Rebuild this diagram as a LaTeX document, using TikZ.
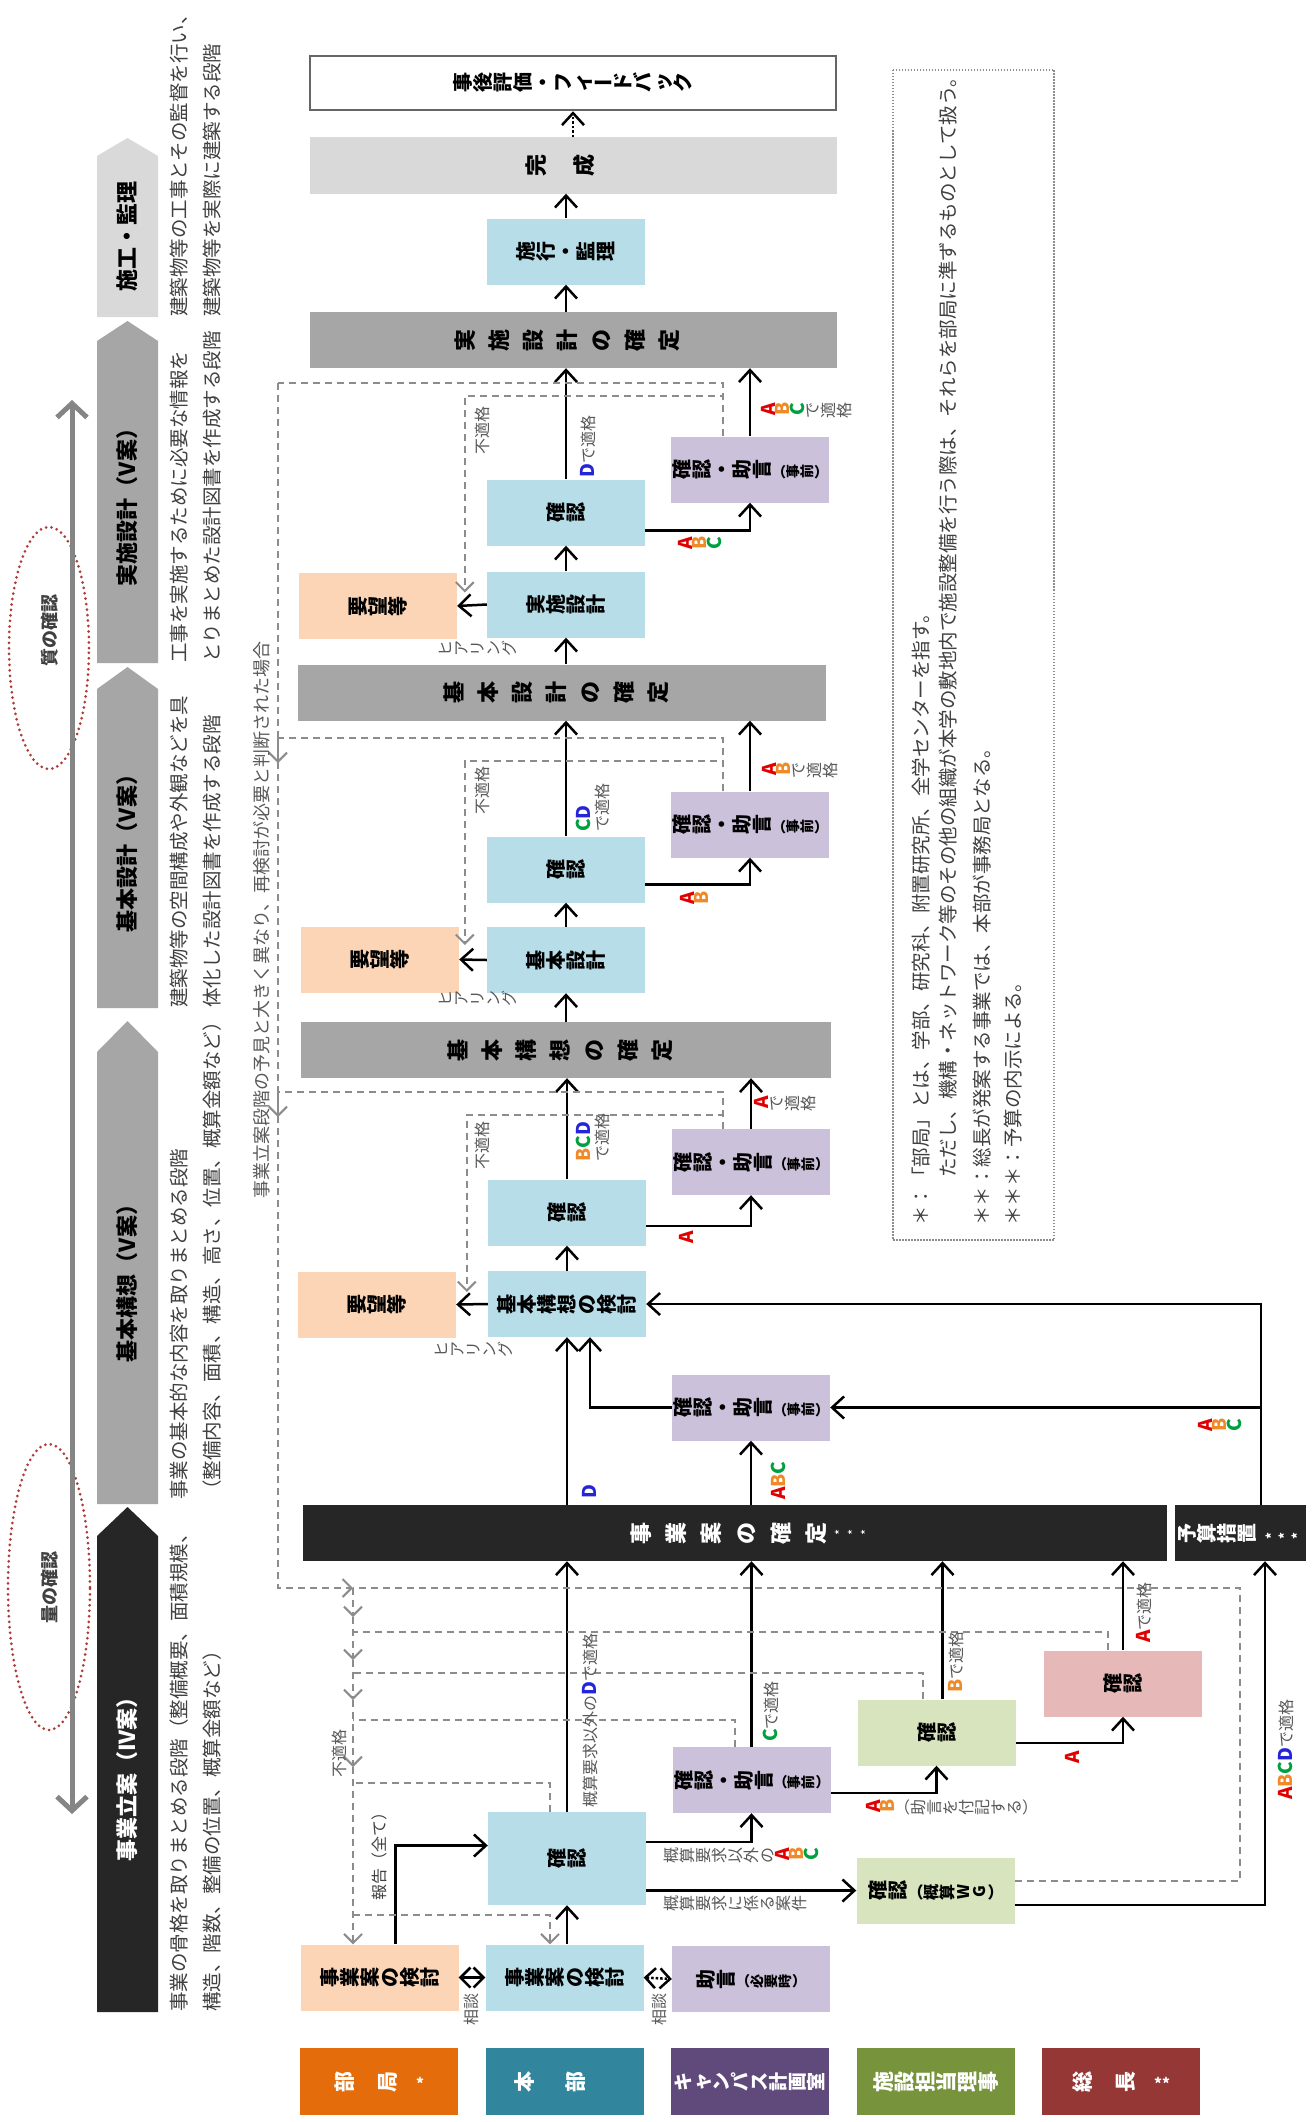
\documentclass[tikz,border=0pt]{standalone}
\usepackage{fontspec}
\setmainfont{Noto Sans CJK JP}
\usepackage{graphicx}
\usetikzlibrary{arrows.meta}
\definecolor{peach}{HTML}{FBD5B5}
\definecolor{lblue}{HTML}{B7DEE8}
\definecolor{lav}{HTML}{CCC1DA}
\definecolor{lgreen}{HTML}{D7E4BD}
\definecolor{pinkc}{HTML}{E6B9B8}
\definecolor{barg}{HTML}{A6A6A6}
\definecolor{lgray}{HTML}{D9D9D9}
\definecolor{blk}{HTML}{262626}
\definecolor{cbu}{HTML}{E46C0A}
\definecolor{chon}{HTML}{31859C}
\definecolor{ccam}{HTML}{604A7B}
\definecolor{cri}{HTML}{77933C}
\definecolor{csou}{HTML}{953735}
\definecolor{cA}{HTML}{E00000}
\definecolor{cB}{HTML}{F08A28}
\definecolor{cC}{HTML}{00A040}
\definecolor{cD}{HTML}{2424D8}
\definecolor{fbgray}{HTML}{8C8C8C}
\definecolor{labgray}{HTML}{595959}
\definecolor{txtgray}{HTML}{404040}
\definecolor{redd}{HTML}{B03A3A}
\definecolor{edge}{HTML}{666666}
\newcommand\kA{{\fontsize{19}{20}\selectfont\bfseries\color{cA}A}\let\tatestrut\relax}
\newcommand\kB{{\fontsize{19}{20}\selectfont\bfseries\color{cB}B}\let\tatestrut\relax}
\newcommand\kC{{\fontsize{19}{20}\selectfont\bfseries\color{cC}C}\let\tatestrut\relax}
\newcommand\kD{{\fontsize{19}{20}\selectfont\bfseries\color{cD}D}\let\tatestrut\relax}
\newlength\tatesep
\def\tateend{tate end}
\newcommand\tatestrut{\rule[-0.12em]{0pt}{1em}}
\newcommand\tate[2][0pt]{\setlength\tatesep{#1}\tateloop#2\tateend\hspace{-\tatesep}}
\def\tateloop#1{\ifx\tateend#1\else\rotatebox[origin=c]{90}{#1\tatestrut}\hspace{\tatesep}\expandafter\tateloop\fi}
\newcommand\norot[1]{\rotatebox[origin=c]{-90}{#1\tatestrut}}
\newcommand\jogentext{\tate{確認・助言}{\fontsize{14}{16}\selectfont\tate{{\norot{（}}事前{\norot{）}}}}}
\tikzset{
  box/.style={inner sep=0pt, minimum width=158pt, minimum height=66pt, font=\fontsize{20}{24}\selectfont\bfseries},
  bar/.style={inner sep=0pt, minimum width=527pt, minimum height=56pt, fill=barg, font=\fontsize{22}{26}\selectfont\bfseries},
  lane/.style={inner sep=0pt, minimum width=158pt, minimum height=67pt, text=white, font=\fontsize{21}{24}\selectfont\bfseries},
  stage/.style={rotate=90, inner sep=0pt, font=\fontsize{22}{26}\selectfont\bfseries},
  desc/.style={rotate=90, anchor=north west, align=left, inner sep=0pt, text=txtgray, font=\fontsize{19.5}{33}\selectfont},
  notetext/.style={rotate=90, anchor=west, inner sep=0pt, text=txtgray, font=\fontsize{19.5}{24}\selectfont},
  lab/.style={inner sep=0pt, text=labgray, font=\fontsize{16}{18}\selectfont},
  rlab/.style={lab, rotate=90},
  flowarr/.style={line width=2.5pt, -{Straight Barb[length=12pt,width=22pt]}},
  fb/.style={line width=2pt, draw=fbgray, dash pattern=on 7pt off 5pt},
  fbarrow/.style={fb, -{Straight Barb[length=9pt,width=18pt]}},
  dblarr/.style={line width=2.5pt, {Straight Barb[length=10pt,width=20pt]}-{Straight Barb[length=10pt,width=20pt]}},
  redot/.style={draw=redd, line width=3pt, line cap=round, dash pattern=on 0pt off 5.5pt},
}
\begin{document}
\begin{tikzpicture}[x=1pt, y=-1pt]
\useasboundingbox (0,0) rectangle (1314,2122);
\fill[white] (0,0) rectangle (1314,2122);

% stages
\fill[lgray] (97,317) -- (97,156) -- (127.5,138) -- (158,156) -- (158,317) -- cycle;
\fill[barg] (97,663) -- (97,341) -- (127.5,321) -- (158,341) -- (158,663) -- cycle;
\fill[barg] (97,1008) -- (97,689) -- (127.5,667) -- (158,689) -- (158,1008) -- cycle;
\fill[barg] (97,1504) -- (97,1052) -- (127.5,1021) -- (158,1052) -- (158,1504) -- cycle;
\fill[blk] (97,2012) -- (97,1536) -- (127.5,1507) -- (158,1536) -- (158,2012) -- cycle;
\node[stage] (sseko) at (127.5,236) {施工・監理};
\node[stage] (sjissi) at (127.5,502) {実施設計（V案）};
\node[stage] (skihon) at (127.5,848) {基本設計（V案）};
\node[stage] (skoso) at (127.5,1278) {基本構想（V案）};
\node[stage, text=white] (sritsu) at (127.5,1774) {事業立案（IV案）};
\node[desc] (dseko) at (170,317) {建築物等の工事とその監督を行い、\\建築物等を実際に建築する段階};
\node[desc] (djissi) at (170,663) {工事を実施するために必要な情報を\\とりまとめた設計図書を作成する段階};
\node[desc] (dkihon) at (170,1008) {建築物等の空間構成や外観などを具\\体化した設計図書を作成する段階};
\node[desc] (dkoso) at (170,1500) {事業の基本的な内容を取りまとめる段階\\（整備内容、面積、構造、高さ、位置、概算金額など）};
\node[desc] (dritsu) at (170,2012) {事業の骨格を取りまとめる段階（整備概要、面積規模、\\構造、階数、整備の位置、概算金額など）};

\draw[redot] (49,648) ellipse [x radius=40pt, y radius=121pt];
\draw[redot] (49,1587) ellipse [x radius=41pt, y radius=143pt];
\draw[line width=5pt, draw=edge!80, {Straight Barb[length=14pt,width=30pt]}-{Straight Barb[length=14pt,width=30pt]}] (72,400) -- (72,1814);
\node[rotate=90, font=\fontsize{18}{20}\selectfont\bfseries, text=txtgray] (shitsu) at (50,630) {質の確認};
\node[rotate=90, font=\fontsize{18}{20}\selectfont\bfseries, text=txtgray] (ryo) at (50,1587) {量の確認};

% boxes
\node[box, fill=white, draw=edge, line width=2.5pt, minimum width=526pt, minimum height=54pt] (hyoka) at (573,83) {\tate{事後評価・フィ{\norot{ー}}ドバック}};
\node[bar, fill=lgray] (kansei) at (573,165.5) {\tate[26pt]{完成}};
\node[box, fill=lblue] (seko) at (566,251.5) {\tate{施行・監理}};
\node[bar] (jkakutei) at (573,340) {\tate[12pt]{実施設計の確定}};
\node[box, fill=lav] (jjogen) at (750,469.5) {\jogentext};
\node[box, fill=lblue] (jkakunin) at (566,512.5) {\tate{確認}};
\node[box, fill=lblue] (jsekkei) at (566,604.5) {\tate{実施設計}};
\node[box, fill=peach] (jyobo) at (378,606) {\tate{要望等}};
\node[bar, minimum width=528pt] (kkakutei) at (562,692.5) {\tate[12pt]{基本設計の確定}};
\node[box, fill=lav] (kjogen) at (750,824.5) {\jogentext};
\node[box, fill=lblue] (kkakunin) at (566,869.5) {\tate{確認}};
\node[box, fill=lblue] (ksekkei) at (566,960) {\tate{基本設計}};
\node[box, fill=peach] (kyobo) at (380,959.5) {\tate{要望等}};
\node[bar, minimum width=530pt] (kokakutei) at (566,1050) {\tate[12pt]{基本構想の確定}};
\node[box, fill=lav] (kojogen) at (751,1162) {\jogentext};
\node[box, fill=lblue] (kokakunin) at (567,1212.5) {\tate{確認}};
\node[box, fill=lblue] (kokento) at (567,1304) {\tate{基本構想の検討}};
\node[box, fill=peach] (koyobo) at (377,1304.5) {\tate{要望等}};
\node[box, fill=lav] (jizen) at (751,1407.5) {\jogentext};
\node[bar, fill=blk, text=white, minimum width=864pt] (jigyo) at (735,1533) {\tate[13pt]{事業案の確定}};
\node[text=white, font=\fontsize{13}{13}\selectfont] (jigyoast) at (854,1533) {\tate{***}};
\node[bar, fill=blk, text=white, minimum width=131pt, font=\fontsize{20}{24}\selectfont\bfseries] (yosan) at (1240.5,1533) {\tate{予算措置}\hspace{8pt}{\fontsize{13}{13}\selectfont\tate{***}}};
\node[box, fill=pinkc] (pink) at (1123,1683.5) {\tate{確認}};
\node[box, fill=lgreen] (green1) at (936.5,1732.5) {\tate{確認}};
\node[box, fill=lav] (cjogen) at (751.5,1780) {\jogentext};
\node[box, fill=lblue, minimum height=93pt] (hkakunin) at (567,1858.5) {\tate{確認}};
\node[box, fill=lgreen] (wg) at (935.5,1890.5) {\tate{確認}{\fontsize{16}{18}\selectfont\tate{{\norot{（}}概算WG{\norot{）}}}}};
\node[box, fill=peach] (bkento) at (379.5,1977.5) {\tate{事業案の検討}};
\node[box, fill=lblue] (hkento) at (564.5,1977.5) {\tate{事業案の検討}};
\node[box, fill=lav] (jogen) at (751,1979) {\tate{助言}{\fontsize{14}{16}\selectfont\tate{{\norot{（}}必要時{\norot{）}}}}};
\node[lane, fill=cbu] (lbukyoku) at (379,2081.5) {\tate[22pt]{部局}\hspace{18pt}{\fontsize{15}{15}\selectfont *}};
\node[lane, fill=chon] (lhonbu) at (565,2081.5) {\tate[30pt]{本部}};
\node[lane, fill=ccam, font=\fontsize{19}{22}\selectfont\bfseries] (lcampus) at (750,2081.5) {\tate{キャンパス計画室}};
\node[lane, fill=cri] (lriji) at (936,2081.5) {\tate{施設担当理事}};
\node[lane, fill=csou] (lsocho) at (1121,2081.5) {\tate[22pt]{総長}\hspace{18pt}{\fontsize{15}{15}\selectfont **}};

% solid arrows
\draw[flowarr, dotted] (kansei.north) -- (hyoka.south);
\draw[flowarr] (seko.north) -- (seko.north |- kansei.south);
\draw[flowarr] (seko.south |- jkakutei.north) -- (seko.south);
\draw[flowarr] (jkakunin.north) -- (jkakunin.north |- jkakutei.south);
\draw[flowarr] (jjogen.north) -- (jjogen.north |- jkakutei.south);
\draw[flowarr] ([yshift=-18pt]jkakunin.east) -| (jjogen.south);
\draw[flowarr] (jsekkei.north) -- (jkakunin.south);
\draw[flowarr] (jsekkei.west) -- (jyobo.east);
\draw[flowarr] (jsekkei.south |- kkakutei.north) -- (jsekkei.south);
\draw[flowarr] (kkakunin.north) -- (kkakunin.north |- kkakutei.south);
\draw[flowarr] (kjogen.north) -- (kjogen.north |- kkakutei.south);
\draw[flowarr] ([yshift=-15pt]kkakunin.east) -| (kjogen.south);
\draw[flowarr] (ksekkei.north) -- (kkakunin.south);
\draw[flowarr] (ksekkei.west) -- (kyobo.east);
\draw[flowarr] (ksekkei.south |- kokakutei.north) -- (ksekkei.south);
\draw[flowarr] (kokakunin.north) -- (kokakunin.north |- kokakutei.south);
\draw[flowarr] (kojogen.north) -- (kojogen.north |- kokakutei.south);
\draw[flowarr] ([yshift=-13.5pt]kokakunin.east) -| (kojogen.south);
\draw[flowarr] (kokento.north) -- (kokakunin.south);
\draw[flowarr] (kokento.west) -- (koyobo.east);
\draw[flowarr] (kokento.south |- jigyo.north) -- (kokento.south);
\draw[flowarr] (jizen.south |- jigyo.north) -- (jizen.south);
\draw[flowarr] (jizen.west) -| ([xshift=23pt]kokento.south);
\draw[flowarr] ([xshift=20.5pt]yosan.north) |- (kokento.east);
\coordinate (ybr) at ([xshift=20.5pt]yosan.north |- jizen.east);
\draw[flowarr] (ybr) -- (jizen.east);
\draw[flowarr] (hkakunin.north) -- (hkakunin.north |- jigyo.south);
\draw[flowarr] (cjogen.north) -- (cjogen.north |- jigyo.south);
\draw[flowarr] ([xshift=6pt]green1.north) -- ([xshift=6pt]green1.north |- jigyo.south);
\draw[flowarr] (pink.north) -- (pink.north |- jigyo.south);
\draw[flowarr] ([yshift=-14.5pt]wg.east) -| ([xshift=24.5pt]yosan.south);
\draw[flowarr] ([yshift=16.5pt]hkakunin.east) -| (cjogen.south);
\draw[flowarr] (hkakunin.east |- wg.west) -- (wg.west);
\draw[flowarr] ([yshift=-13pt]cjogen.east) -| (green1.south);
\draw[flowarr] ([yshift=-10.5pt]green1.east) -| (pink.south);
\draw[flowarr] ([xshift=16pt]bkento.north) |- ([yshift=13pt]hkakunin.west);
\draw[flowarr] (hkakunin.south |- hkento.north) -- (hkakunin.south);
\draw[dblarr] (bkento.east) -- (hkento.west);
\draw[dblarr, dotted] (hkento.east) -- (jogen.west);

% dashed returns
\coordinate (tjtop) at (278,383);
\coordinate (tkmid) at (278,738);
\coordinate (tklow) at (278,1092);
\coordinate (tend) at (353,1588);
\draw[fb] ([xshift=-27pt]jjogen.north) |- (tjtop);
\draw[fbarrow] ([xshift=-27pt]jjogen.north) -- ++(0,-40) -| ([xshift=-22pt,yshift=12pt]jsekkei.west);
\draw[fb] ([xshift=-27pt]kjogen.north) |- (tkmid);
\draw[fbarrow] ([xshift=-27pt]kjogen.north) -- ++(0,-30) -| ([xshift=-22pt,yshift=15pt]ksekkei.west);
\draw[fb] ([xshift=-28pt]kojogen.north) |- (tklow);
\draw[fbarrow] ([xshift=-28pt]kojogen.north) -- ++(0,-14) -| ([xshift=-21pt,yshift=12pt]kokento.west);
\draw[fbarrow] (tjtop) -- ([yshift=-25pt]tkmid);
\draw[fbarrow] (tkmid) -- ([yshift=-25pt]tklow);
\draw[fbarrow] (tklow) |- (tend);
\draw[fb] ([yshift=10pt]wg.east) -| (1240,1588) -- (tend);
\draw[fb] ([xshift=-15pt]pink.north) |- (353,1632);
\draw[fb] ([xshift=-13.5pt]green1.north) |- (353,1673);
\draw[fb] ([xshift=-16.5pt]cjogen.north) |- (353,1720);
\draw[fb] ([xshift=-17pt]hkakunin.north) |- (353,1783);
\draw[fbarrow] (tend) -- (353,1617);
\draw[fbarrow] (353,1617) -- (353,1660);
\draw[fbarrow] (353,1660) -- (353,1700);
\draw[fbarrow] (353,1700) -- (353,1767);
\draw[fbarrow] (353,1767) -- (bkento.north -| tend);
\draw[fbarrow] (353,1915) -| ([xshift=-14.5pt]hkento.north);

% labels
\node[rlab, anchor=west, font=\fontsize{18}{20}\selectfont] (saiken) at (262,1199) {事業立案段階の予見と大きく異なり、再検討が必要と判断された場合};
\node[rlab] (fu1) at (482,430) {不適格};
\node[rlab] (fu2) at (482,790) {不適格};
\node[rlab] (fu3) at (482,1145) {不適格};
\node[rlab] (fu4) at (339,1753) {不適格};
\node[rlab, anchor=west] (ljD) at (588,478) {\kD で適格};
\node[lab] (ljABC) at (807,410) {\tate{\kA\kB\kC で適格}};
\node[lab] (ljABC2) at (700,543) {\tate{\kA\kB\kC}};
\node[lab] (lhear1) at (477,648) {\tate{ヒアリング}};
\node[rlab, anchor=north west, align=left] (lkCD) at (576,832) {\kC\kD\\で適格};
\node[lab] (lkAB) at (800,770) {\tate{\kA\kB で適格}};
\node[lab] (lkAB2) at (694,898) {\tate{\kA\kB}};
\node[lab] (lhear2) at (477,998) {\tate{ヒアリング}};
\node[rlab, anchor=north west, align=left] (lkoBCD) at (576,1162) {\kB\kC\kD\\で適格};
\node[lab] (lkoA) at (785,1103) {\tate{\kA で適格}};
\node[lab] (lkoA2) at (686,1238) {\tate{\kA}};
\node[lab] (lhear3) at (473,1349) {\tate{ヒアリング}};
\node[rlab] (ljD2) at (589,1492) {\kD};
\node[rlab, anchor=west] (ljABC3) at (778,1500) {\kA\kB\kC};
\node[lab] (lyABC) at (1220,1425) {\tate{\kA\kB\kC}};
\node[rlab, anchor=west] (lhD) at (590,1808) {概算要求以外の\kD で適格};
\node[rlab, anchor=west] (lcC) at (771,1742) {\kC で適格};
\node[rlab, anchor=west] (lgB) at (956,1693) {\kB で適格};
\node[rlab, anchor=west] (lpA) at (1144,1643) {\kA で適格};
\node[rlab, anchor=west] (lwABCD) at (1286,1800) {\kA\kB\kC\kD で適格};
\node[lab] (lhABC) at (741,1855) {\tate{概算要求以外の\kA\kB\kC}};
\node[lab] (lhWG) at (735,1903) {\tate{概算要求に係る案件}};
\node[lab] (lcAB) at (952,1807) {\tate{\kA\kB{\norot{（}}助言を付記する{\norot{）}}}};
\node[lab] (lgA) at (1072,1758) {\tate{\kA}};
\node[rlab, text=txtgray] (lhoukoku) at (379,1852) {報告（全て）};
\node[rlab] (lsodan1) at (471,2009) {相談};
\node[rlab] (lsodan2) at (659,2009) {相談};

% notes
\draw[fbgray, line width=1.5pt, dash pattern=on 1.5pt off 1.5pt] (893,70) rectangle (1054,1240);
\node[notetext] (n1) at (921,1226) {＊：「部局」とは、学部、研究科、附置研究所、全学センターを指す。};
\node[notetext] (n2) at (948,1178) {ただし、機構・ネットワーク等のその他の組織が本学の敷地内で施設整備を行う際は、それらを部局に準ずるものとして扱う。};
\node[notetext] (n3) at (982,1226) {＊＊：総長が発案する事業では、本部が事務局となる。};
\node[notetext] (n4) at (1013,1226) {＊＊＊：予算の内示による。};
\end{tikzpicture}
\end{document}
